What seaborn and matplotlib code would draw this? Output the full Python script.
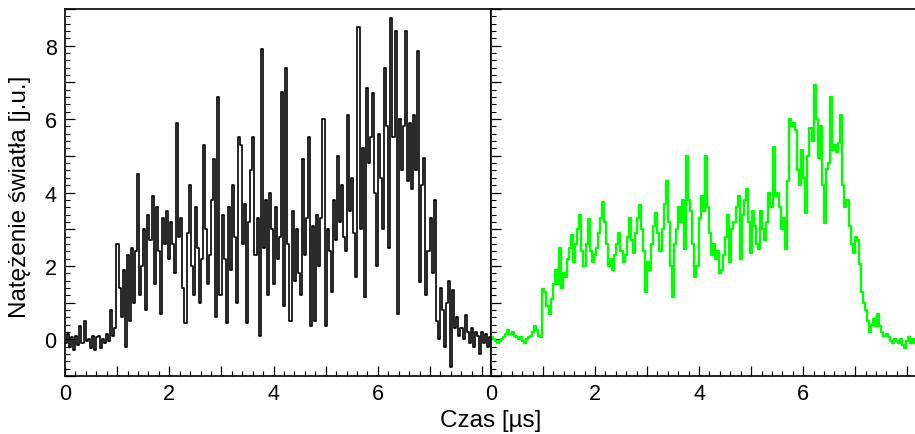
import numpy as np
import pandas as pd
import matplotlib
matplotlib.use("Agg")
import matplotlib.pyplot as plt
from matplotlib.ticker import MultipleLocator, FuncFormatter
import seaborn as sns

# ---------------- data ----------------
BIN_W = 0.0395  # bin width in microseconds

raw_signal = [
    # 0.0 - 1.0
    -0.1, 0.15, -0.2, 0.05, -0.3, 0.1, -0.15, 0.35, -0.1, 0.5, -0.05, 0.0, -0.25,
    0.1, -0.3, 0.05, 0.1, -0.25, 0.0, -0.1, 0.15, -0.05, 0.8, 0.1, 0.3,
    # 1.0 - 2.0
    2.6, 1.4, 0.6, 1.9, -0.2, 2.3, 0.5, 2.5, 1.0, 2.4, 4.5, 1.2, 2.0,
    3.0, 0.8, 3.4, 2.7, 3.9, 1.5, 3.6, 2.4, 0.7, 3.3, 2.6, 3.5,
    # 2.0 - 3.0
    2.2, 3.2, 2.6, 1.8, 5.9, 2.8, 3.3, 1.4, 0.45, 2.9, 4.2, 2.0, 1.2,
    3.6, 2.5, 1.0, 2.2, 5.3, 3.0, 1.5, 2.3, 3.8, 4.9, 0.6, 6.6,
    # 3.0 - 4.0
    1.2, 3.4, 2.2, 0.45, 3.6, 1.9, 4.2, 2.8, 1.0, 5.5, 5.3, 2.6, 3.7,
    0.45, 3.2, 4.6, 5.5, 2.3, 3.3, 0.1, 7.9, 2.5, 3.8, 1.2, 4.0,
    # 4.0 - 5.0
    3.0, 1.5, 3.6, 2.2, 2.8, 6.75, 0.9, 7.4, 2.6, 0.5, 3.5, 1.6, 3.0,
    1.8, 1.2, 4.9, 2.3, 3.3, 5.5, 0.35, 3.1, 0.5, 3.4, 2.0, 3.3,
    # 5.0 - 6.0
    6.0, 0.35, 3.0, 2.4, 1.3, 3.8, 2.7, 5.0, 3.2, 4.2, 2.8, 2.4, 6.1,
    3.5, 4.4, 2.9, 1.7, 8.5, 3.0, 5.2, 1.15, 6.85, 4.8, 5.5, 6.7,
    # 6.0 - 7.0
    4.0, 2.0, 5.6, 4.4, 3.0, 7.4, 5.8, 2.5, 8.75, 5.5, 8.4, 0.7, 6.0,
    4.6, 5.8, 8.4, 4.3, 5.9, 4.1, 6.1, 4.6, 7.85, 1.55, 4.2, 4.95,
    # 7.0 - 8.0
    1.2, 2.4, 3.3, 1.8, 3.8, 0.5, 0.0, 1.4, 0.8, -0.2, 1.0, 1.6, -0.75,
    1.35, 0.3, 0.6, 0.1, 0.3, 0.0, 0.65, 0.2, -0.1, 0.3, -0.2, 0.2,
    # 8.0 -
    0.1, -0.4, 0.2, -0.1, 0.15, -0.2, 0.05,
]

smooth_signal = [
    # 0.0 - 1.0
    0.05, 0.0, -0.05, -0.1, -0.05, 0.0, 0.05, 0.15, 0.25, 0.15, 0.2, 0.1, 0.05,
    0.0, 0.05, -0.05, -0.1, 0.0, 0.05, 0.1, 0.2, 0.35, 0.25, 0.1, 0.05,
    # 1.0 - 2.0
    1.36, 1.3, 0.9, 0.7, 1.1, 1.5, 1.9, 1.5, 2.5, 1.4, 1.8, 1.7, 2.2,
    2.5, 2.85, 2.1, 2.6, 3.0, 3.4, 2.4, 2.0, 2.6, 3.27, 2.4, 2.1,
    # 2.0 - 3.0
    2.3, 2.5, 2.9, 3.3, 3.75, 3.2, 2.6, 2.0, 2.2, 1.9, 2.3, 2.6, 2.9,
    2.4, 2.1, 2.3, 2.8, 3.3, 2.7, 2.35, 2.9, 3.3, 3.65, 3.0, 2.4,
    # 3.0 - 4.0
    1.3, 2.1, 1.9, 2.6, 3.1, 3.45, 2.9, 2.4, 3.0, 3.7, 4.3, 3.2, 2.0,
    1.15, 2.6, 3.0, 3.6, 3.2, 3.8, 2.45, 5.0, 3.8, 3.5, 2.6, 1.7,
    # 4.0 - 5.0
    2.0, 3.3, 3.9, 3.5, 5.0, 3.6, 2.9, 2.3, 2.6, 2.2, 2.4, 1.8, 1.9,
    2.3, 2.8, 3.4, 2.1, 3.0, 3.2, 3.6, 3.9, 2.2, 3.4, 3.8, 4.1,
    # 5.0 - 6.0
    3.2, 2.35, 3.5, 3.1, 2.6, 2.45, 3.5, 3.0, 2.7, 3.2, 4.0, 3.6, 5.25,
    3.9, 4.0, 3.6, 3.0, 3.3, 2.45, 4.3, 6.0, 5.8, 5.9, 5.7, 4.6,
    # 6.0 - 7.0
    4.2, 5.17, 4.4, 3.45, 5.0, 5.77, 5.4, 6.94, 6.0, 4.95, 5.8, 4.2, 3.18,
    4.63, 4.8, 6.6, 5.17, 5.3, 5.1, 5.35, 6.1, 4.2, 3.6, 3.8, 3.1,
    # 7.0 - 8.0
    2.6, 2.35, 2.8, 2.7, 2.05, 1.3, 1.0, 0.8, 0.5, 0.2, 0.4, 0.55, 0.35,
    0.7, 0.35, 0.2, 0.1, 0.15, 0.05, -0.05, -0.1, 0.0, -0.05, -0.1, 0.0,
    # 8.0 -
    -0.15, -0.25, -0.05, 0.05, -0.1, 0.0, -0.1,
]

x_tick_labels = ["0", "2", "4", "6"]
y_tick_labels = ["0", "2", "4", "6", "8"]
x_label = "Czas [µs]"
y_label = "Natężenie światła [j.u.]"

X_MAX = 8.17
Y_MIN, Y_MAX = -1.0, 9.0


def make_frame(values):
    n = len(values)
    t = np.arange(n + 1) * BIN_W
    v = list(values) + [values[-1]]
    return pd.DataFrame({"t": t, "v": v})


df_raw = make_frame(raw_signal)
df_smooth = make_frame(smooth_signal)

# ---------------- style ----------------
sns.set_style("ticks")
plt.rcParams["font.family"] = ["Liberation Sans", "DejaVu Sans"]
plt.rcParams["text.color"] = "black"
plt.rcParams["xtick.labelcolor"] = "black"
plt.rcParams["ytick.labelcolor"] = "black"

W, H = 915, 435
fig = plt.figure(figsize=(W / 100, H / 100), dpi=100)

left_px, mid_px, right_px = 65, 491, 916
top_px, bot_px = 10, 377
ax1 = fig.add_axes([left_px / W, 1 - bot_px / H, (mid_px - left_px) / W, (bot_px - top_px) / H])
ax2 = fig.add_axes([mid_px / W, 1 - bot_px / H, (right_px - mid_px) / W, (bot_px - top_px) / H])

sns.lineplot(data=df_raw, x="t", y="v", ax=ax1, color="black", linewidth=1.2,
             drawstyle="steps-post", estimator=None, sort=False)
sns.lineplot(data=df_smooth, x="t", y="v", ax=ax2, color="#00ff00", linewidth=1.7,
             drawstyle="steps-post", estimator=None, sort=False)


def xfmt(v, pos):
    iv = int(round(v))
    s = str(iv)
    return s if s in x_tick_labels and abs(v - iv) < 1e-6 else ""


def yfmt(v, pos):
    iv = int(round(v))
    s = str(iv)
    return s if s in y_tick_labels and abs(v - iv) < 1e-6 else ""


for ax in (ax1, ax2):
    ax.set_xlim(0, X_MAX)
    ax.set_ylim(Y_MIN, Y_MAX)
    ax.set_xlabel("")
    ax.set_ylabel("")
    ax.xaxis.set_major_locator(MultipleLocator(1))
    ax.xaxis.set_minor_locator(MultipleLocator(0.2))
    ax.yaxis.set_major_locator(MultipleLocator(1))
    ax.yaxis.set_minor_locator(MultipleLocator(0.2))
    ax.xaxis.set_major_formatter(FuncFormatter(xfmt))
    ax.tick_params(axis="both", which="major", direction="in", length=7, width=0.9,
                   labelsize=15.5, top=False, right=False, color="black",
                   labelcolor="black")
    ax.tick_params(axis="both", which="minor", direction="in", length=3.5, width=0.8,
                   top=False, right=False, color="black")
    ax.tick_params(axis="x", which="major", pad=5)
    for sp in ax.spines.values():
        sp.set_linewidth(1.2)
        sp.set_color("black")
    ax.set_facecolor("white")

ax1.yaxis.set_major_formatter(FuncFormatter(yfmt))
ax1.tick_params(axis="y", which="major", pad=6)
ax2.tick_params(axis="y", which="both", labelleft=False)
ax2.spines["right"].set_visible(False)

fig.text(20 / W, 1 - 197 / H, y_label, rotation=90, ha="center", va="center",
         fontsize=17.5, color="black")
fig.text(491 / W, 1 - 421 / H, x_label, ha="center", va="center",
         fontsize=17.5, color="black")

fig.savefig("out.png", dpi=100, facecolor="white")
